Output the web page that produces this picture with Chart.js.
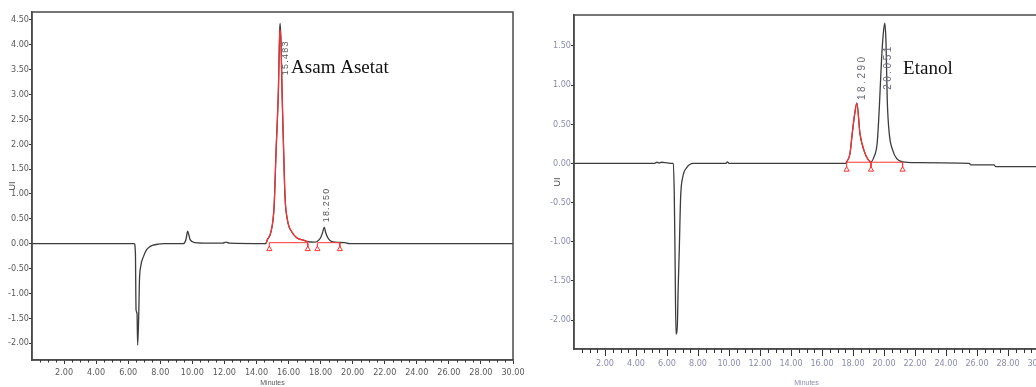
<!DOCTYPE html>
<html>
<head>
<meta charset="utf-8">
<script src="https://cdn.jsdelivr.net/npm/chart.js@4.4.1/dist/chart.umd.min.js"></script>
<style>
  html, body { margin: 0; padding: 0; background: #fff; overflow: hidden; width: 1036px; height: 387px; }
  #kiri { position: absolute; left: 0; top: 0; }
  #kanan { position: absolute; left: 540px; top: 0; }
</style>
</head>
<body>
<canvas id="kiri" width="530" height="387"></canvas>
<canvas id="kanan" width="510" height="387"></canvas>
<script>
// ---- kromatogram asam asetat (kiri) ----
var waktuAsetat = [0, 6.38, 6.45, 6.49, 6.55, 6.59, 6.66, 6.7, 6.78, 6.95, 7.15, 7.35, 7.55, 7.86, 8.2,
    9.44, 9.6, 9.71, 9.78, 9.86, 10.17, 11.0, 11.9, 12.1, 12.3, 14.5,
    14.6, 14.68, 14.89, 15.1, 15.22, 15.37, 15.45, 15.48, 15.53, 15.6, 15.68, 15.78, 15.93, 16.2, 16.51, 16.93, 17.2,
    17.6, 17.8, 18.0, 18.12, 18.23, 18.32, 18.45, 18.6, 18.9, 19.5, 19.8, 30];
var sinyalAsetat = [0, 0, -0.2, -1.33, -1.4, -2.04, -1.4, -0.75, -0.46, -0.26, -0.12, -0.06, -0.03, -0.01, 0,
    0, 0.08, 0.25, 0.18, 0.08, 0.02, 0.01, 0.01, 0.03, 0.01, 0,
    0.01, 0.08, 0.22, 0.75, 1.84, 3.11, 4.3, 4.43, 4.06, 3.0, 2.04, 0.95, 0.48, 0.24, 0.12, 0.07, 0.04,
    0.03, 0.05, 0.12, 0.22, 0.33, 0.22, 0.12, 0.06, 0.03, 0.02, 0, 0];

// bagian puncak yang diberi warna merah
var waktuPuncakAsetat = [14.6, 14.68, 14.89, 15.1, 15.22, 15.37, 15.45, 15.53, 15.6, 15.68, 15.78, 15.93, 16.2, 16.51, 16.93, 17.2];
var sinyalPuncakAsetat = [0.01, 0.08, 0.22, 0.75, 1.84, 3.11, 4.3, 4.06, 3.0, 2.04, 0.95, 0.48, 0.24, 0.12, 0.07, 0.04];
var batasAsetat = [[14.8, 17.2], [17.8, 19.2]];

// ---- kromatogram etanol (kanan) ----
var waktuEtanol = [0, 5.2, 5.35, 5.5, 5.65, 5.9, 6.2, 6.41, 6.47, 6.52, 6.58, 6.67, 6.72, 6.79, 6.88, 7.01, 7.27, 7.7,
    9.8, 9.9, 10.0, 17.5,
    17.59, 17.8, 17.95, 18.1, 18.25, 18.45, 18.7, 18.97, 19.16,
    19.35, 19.56, 19.69, 19.84, 19.95, 20.05, 20.13, 20.21, 20.34, 20.56, 20.82, 21.2, 22.0,
    25.5, 25.6, 27.1, 27.2, 30];
var sinyalEtanol = [0, 0, 0.015, 0.005, 0.015, 0.01, 0, 0, -0.41, -1.2, -2.18, -2.05, -1.6, -1.12, -0.43, -0.18, -0.055, 0,
    0, 0.02, 0, 0,
    0.02, 0.12, 0.38, 0.62, 0.77, 0.38, 0.17, 0.05, 0.02,
    0.08, 0.26, 0.68, 1.32, 1.65, 1.79, 1.54, 0.81, 0.38, 0.17, 0.06, 0.02, 0.01,
    0, -0.02, -0.02, -0.04, -0.04];

var waktuPuncakEtanol = [17.59, 17.8, 17.95, 18.1, 18.25, 18.45, 18.7, 18.97, 19.16];
var sinyalPuncakEtanol = [0.02, 0.12, 0.38, 0.62, 0.77, 0.38, 0.17, 0.05, 0.02];
var batasEtanol = [[17.59, 19.16], [19.16, 21.2]];

// label sumbu
var tickMenit = [2, 4, 6, 8, 10, 12, 14, 16, 18, 20, 22, 24, 26, 28, 30];
var tickKiri = [-2, -1.5, -1, -0.5, 0, 0.5, 1, 1.5, 2, 2.5, 3, 3.5, 4, 4.5];
var tickKanan = [-2, -1.5, -1, -0.5, 0, 0.5, 1, 1.5];


function gabung(t, v) {
    return t.map(function (x, i) { return { x: x, y: v[i] }; });
}

// garis dasar merah + tiang kecil di tiap batas
function garisBatas(seg, atas, bawah) {
    var hasil = [];
    seg.forEach(function (s) {
        hasil.push({ x: s[0], y: bawah }, { x: s[0], y: atas }, { x: s[1], y: atas }, { x: s[1], y: bawah }, { x: s[1], y: null });
    });
    return hasil;
}

function titikBatas(seg, y) {
    var t = [];
    seg.forEach(function (s) {
        if (t.indexOf(s[0]) < 0) t.push(s[0]);
        if (t.indexOf(s[1]) < 0) t.push(s[1]);
    });
    return t.map(function (x) { return { x: x, y: y }; });
}

var pluginKromatogram = {
    id: 'kromatogram',
    afterDraw: function (chart, args, opt) {
        var c = chart.ctx, a = chart.chartArea, sx = chart.scales.x, sy = chart.scales.y;
        c.save();
        c.strokeStyle = '#4a4a4a';
        c.lineWidth = 1.5;
        c.strokeRect(a.left, a.top, a.right - a.left, a.bottom - a.top);

        // tick kecil tiap 0.5 menit
        c.lineWidth = 1;
        c.strokeStyle = '#333';
        for (var t = 0.5; t < sx.max; t += 0.5) {
            if (t % 2 === 0) continue;
            var px = Math.round(sx.getPixelForValue(t)) + 0.5;
            c.beginPath();
            c.moveTo(px, a.bottom);
            c.lineTo(px, a.bottom + opt.minor);
            c.stroke();
        }

        // waktu retensi (tegak)
        c.fillStyle = opt.warnaRetensi;
        c.font = opt.fontRetensi;
        c.letterSpacing = opt.spasi;
        c.textAlign = 'left';
        c.textBaseline = 'middle';
        opt.retensi.forEach(function (r) {
            c.save();
            c.translate(sx.getPixelForValue(r.x), sy.getPixelForValue(r.y));
            c.rotate(-Math.PI / 2);
            c.fillText(r.teks, 0, 0);
            c.restore();
        });

        // nama senyawa
        c.letterSpacing = '0px';
        c.fillStyle = '#111';
        c.font = '19px "Liberation Serif", "Times New Roman", serif';
        c.textBaseline = 'alphabetic';
        opt.nama.forEach(function (n) {
            c.fillText(n.teks, sx.getPixelForValue(n.x), sy.getPixelForValue(n.y));
        });
        c.restore();
    }
};

function buatKromatogram(id, cfg) {
    var ctx = document.getElementById(id);
    return new Chart(ctx, {
        type: 'line',
        data: {
            datasets: [{
                data: garisBatas(cfg.batas, cfg.atas, cfg.bawah),
                borderColor: '#ff3333',
                borderWidth: 1,
                pointRadius: 0,
                spanGaps: false
            }, {
                data: titikBatas(cfg.batas, cfg.segitiga),
                showLine: false,
                pointStyle: 'triangle',
                pointRadius: 3,
                pointBorderWidth: 1,
                pointBorderColor: '#ff3333',
                pointBackgroundColor: '#fff'
            }, {
                data: gabung(cfg.waktuPuncak, cfg.sinyalPuncak),
                borderColor: '#ff3030',
                borderWidth: 1.2,
                pointRadius: 0,
                cubicInterpolationMode: 'monotone'
            }, {
                data: gabung(cfg.waktu, cfg.sinyal),
                borderColor: '#3c3c3c',
                borderWidth: 1.3,
                pointRadius: 0,
                cubicInterpolationMode: 'monotone'
            }]
        },
        options: {
            responsive: false,
            animation: false,
            layout: { padding: { left: 0, top: cfg.top, right: cfg.right, bottom: 0 } },
            plugins: {
                legend: { display: false },
                tooltip: { enabled: false },
                kromatogram: {
                    minor: cfg.minor,
                    retensi: cfg.retensi,
                    nama: cfg.nama,
                    warnaRetensi: cfg.warnaRetensi,
                    fontRetensi: cfg.fontRetensi,
                    spasi: cfg.spasi
                }
            },
            scales: {
                x: {
                    type: 'linear',
                    min: 0,
                    max: 30,
                    afterBuildTicks: function (s) { s.ticks = tickMenit.map(function (v) { return { value: v }; }); },
                    afterFit: function (s) { s.height = cfg.tinggiX; s.paddingLeft = 0; s.paddingRight = 0; },
                    grid: { drawOnChartArea: false, tickLength: cfg.major, color: '#333' },
                    border: { display: true, color: '#4a4a4a', width: 1.5 },
                    ticks: {
                        maxRotation: 0,
                        autoSkip: false,
                        padding: cfg.padX,
                        color: cfg.warnaTick,
                        font: { size: 9, family: '"Liberation Sans Narrow", "DejaVu Sans Condensed", "Liberation Sans", sans-serif' },
                        callback: function (v) { return v.toFixed(2); }
                    },
                    title: {
                        display: true,
                        text: 'Minutes',
                        color: cfg.warnaTick,
                        padding: 0,
                        font: { size: 7, family: '"Liberation Sans Narrow", "Liberation Sans", sans-serif' }
                    }
                },
                y: {
                    min: cfg.ymin,
                    max: cfg.ymax,
                    afterBuildTicks: function (s) { s.ticks = cfg.tickY.map(function (v) { return { value: v }; }); },
                    afterFit: function (s) { s.width = cfg.lebarY; s.paddingTop = 0; s.paddingBottom = 0; },
                    grid: { drawOnChartArea: false, tickLength: 3, color: '#333' },
                    border: { display: true, color: '#4a4a4a', width: 1.5 },
                    ticks: {
                        padding: 0,
                        autoSkip: false,
                        color: cfg.warnaTick,
                        font: { size: 9, family: '"Liberation Sans Narrow", "DejaVu Sans Condensed", "Liberation Sans", sans-serif' },
                        callback: function (v) { return v.toFixed(2); }
                    },
                    title: {
                        display: true,
                        text: 'UI',
                        color: '#444',
                        padding: { top: cfg.padJudulY, bottom: 0 },
                        font: { size: 9, family: '"Liberation Sans", sans-serif' }
                    }
                }
            }
        },
        plugins: [pluginKromatogram]
    });
}

buatKromatogram('kiri', {
    waktu: waktuAsetat, sinyal: sinyalAsetat,
    waktuPuncak: waktuPuncakAsetat, sinyalPuncak: sinyalPuncakAsetat,
    batas: batasAsetat, atas: 0.02, bawah: -0.07, segitiga: -0.11,
    ymin: -2.34, ymax: 4.66, tickY: tickKiri,
    top: 12, right: 17, tinggiX: 27, lebarY: 32,
    major: 4, minor: 2.5, padX: 3, padJudulY: 7.5,
    warnaTick: '#5a5a5a', warnaRetensi: '#555',
    fontRetensi: '9px "Liberation Sans", sans-serif', spasi: '1.2px',
    retensi: [{ teks: '15.483', x: 15.8, y: 3.39 }, { teks: '18.250', x: 18.4, y: 0.43 }],
    nama: [{ teks: 'Asam Asetat', x: 16.16, y: 3.43 }]
});

buatKromatogram('kanan', {
    waktu: waktuEtanol, sinyal: sinyalEtanol,
    waktuPuncak: waktuPuncakEtanol, sinyalPuncak: sinyalPuncakEtanol,
    batas: batasEtanol, atas: 0.015, bawah: -0.05, segitiga: -0.08,
    ymin: -2.37, ymax: 1.895, tickY: tickKanan,
    top: 15, right: 11, tinggiX: 38, lebarY: 34,
    major: 7, minor: 4, padX: 2, padJudulY: 12.5,
    warnaTick: '#8a8db0', warnaRetensi: '#6a6a7a',
    fontRetensi: '10px "Liberation Sans", sans-serif', spasi: '2.5px',
    retensi: [{ teks: '18.290', x: 18.58, y: 0.81 }, { teks: '20.051', x: 20.26, y: 0.94 }],
    nama: [{ teks: 'Etanol', x: 21.23, y: 1.14 }]
});
</script>
</body>
</html>
